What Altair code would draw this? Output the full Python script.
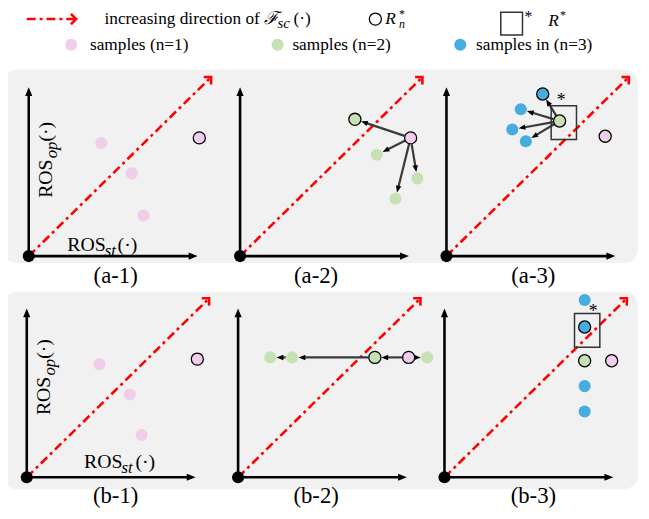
import math
import altair as alt
import pandas as pd

# ---------------- chart values ----------------
PANELS = ["a-1", "a-2", "a-3", "b-1", "b-2", "b-3"]
PANEL_LABELS = ["(a-1)", "(a-2)", "(a-3)", "(b-1)", "(b-2)", "(b-3)"]

GROUPS = ["n=1", "n=2", "n=3"]
GROUP_COLORS = ["#f0cdeb", "#c6e1b5", "#47addf"]
LEGEND_LABELS = ["samples (n=1)", "samples (n=2)", "samples in (n=3)"]

# samples: panel, group, ROS_st, ROS_op, outlined (= R*_n)
S_PANEL = (["a-1"] * 4 + ["a-2"] * 5 + ["a-3"] * 6 +
           ["b-1"] * 4 + ["b-2"] * 5 + ["b-3"] * 6)
S_GROUP = (["n=1"] * 4 +
           ["n=1", "n=2", "n=2", "n=2", "n=2"] +
           ["n=1", "n=2", "n=3", "n=3", "n=3", "n=3"] +
           ["n=1"] * 4 +
           ["n=1", "n=2", "n=2", "n=2", "n=2"] +
           ["n=1", "n=2", "n=3", "n=3", "n=3", "n=3"])
S_ST = [43, 61, 68, 101,
        101, 68, 81, 105, 92,
        94, 67, 57, 44, 39, 47,
        43, 61, 68, 101,
        101, 81, 32, 19, 112,
        99, 83, 83, 83, 83, 83]
S_OP = [67, 49, 24, 70,
        70, 81, 60, 46, 34,
        71, 80, 96, 87, 75, 68,
        67, 49, 25, 70,
        71, 71, 71, 71, 71,
        69, 69, 89, 105, 54, 39]
S_BEST = [0, 0, 0, 1,
          1, 1, 0, 0, 0,
          1, 1, 1, 0, 0, 0,
          0, 0, 0, 1,
          1, 1, 0, 0, 0,
          1, 1, 1, 0, 0, 0]

# search arrows: panel, from (st, op) -> to (st, op)
A_PANEL = ["a-2"] * 4 + ["a-3"] * 4 + ["b-2"] * 4
A_ST0 = [101, 101, 101, 101, 67, 67, 67, 67, 81, 32, 101, 101]
A_OP0 = [70, 70, 70, 70, 80, 80, 80, 80, 71, 71, 71, 71]
A_ST1 = [68, 81, 105, 92, 57, 44, 39, 47, 32, 19, 81, 112]
A_OP1 = [81, 60, 46, 34, 96, 87, 75, 68, 71, 71, 71, 71]

# R* boxes
B_PANEL = ["a-3", "b-3"]
B_ST0 = [62, 77]
B_ST1 = [77, 92]
B_OP0 = [69, 77]
B_OP1 = [89, 97]
STAR_ST = [68, 88]
STAR_OP = [94, 100]

AXIS_MAX = 100
DIAG_END = (108, 106)

# ---------------- layout (pixels) ----------------
K = 1.71
ORIGIN = {"a-1": (29, 256), "a-2": (243, 256), "a-3": (452, 256),
          "b-1": (27, 480), "b-2": (241, 480), "b-3": (450, 480)}
LABEL_POS = {"a-1": (117, 283), "a-2": (320, 283), "a-3": (540, 283),
             "b-1": (117, 506), "b-2": (320, 506), "b-3": (540, 506)}
ROW_BOX = [(3, 646, 67, 263), (3, 646, 292, 492)]
FONT = "Liberation Serif"
BG = "#f1f1f1"

XS = alt.Scale(domain=[8, 649], nice=False, zero=False)
YS = alt.Scale(domain=[8, 519], nice=False, zero=False, reverse=True)


def px(panel, st, op):
    ox, oy = ORIGIN[panel]
    return ox + K * st, oy - K * op


def enc(**kw):
    out = {}
    if "x" in kw:
        out["x"] = alt.X(kw["x"], type="quantitative", scale=XS, axis=None)
    if "y" in kw:
        out["y"] = alt.Y(kw["y"], type="quantitative", scale=YS, axis=None)
    if "x2" in kw:
        out["x2"] = alt.X2(kw["x2"])
    if "y2" in kw:
        out["y2"] = alt.Y2(kw["y2"])
    return out


def heading(x0, y0, x1, y1):
    dx, dy = x1 - x0, y1 - y0
    return math.degrees(math.atan2(dx, -dy)) % 360


HEAD = "M0,0L-0.4,1L0.4,1Z"
CHEVRON = "M-1,1L0,0L1,1"

layers = []

# row backgrounds
bg = pd.DataFrame([{"x": a, "x2": b, "y": c, "y2": d} for a, b, c, d in ROW_BOX])
layers.append(alt.Chart(bg).mark_rect(cornerRadius=14, color=BG)
              .encode(**enc(x="x", x2="x2", y="y", y2="y2")))

# red diagonal (increasing direction)
diag_rows, chev_rows = [], []
for p in PANELS:
    x0, y0 = px(p, 0, 0)
    x1, y1 = px(p, *DIAG_END)
    diag_rows.append({"x": x0, "y": y0, "x2": x1, "y2": y1})
    chev_rows.append({"x": x1, "y": y1, "ang": heading(x0, y0, x1, y1)})
# legend arrow
diag_rows.append({"x": 27, "y": 16, "x2": 75, "y2": 16})
chev_rows.append({"x": 77, "y": 16, "ang": 90})
layers.append(alt.Chart(pd.DataFrame(diag_rows))
              .mark_rule(color="#ff0000", strokeWidth=2.6, strokeDash=[9, 4, 3, 4])
              .encode(**enc(x="x", y="y", x2="x2", y2="y2")))
layers.append(alt.Chart(pd.DataFrame(chev_rows))
              .mark_point(shape=CHEVRON, filled=False, color="#ff0000",
                          strokeWidth=2.6, size=110, opacity=1)
              .encode(**enc(x="x", y="y"), angle=alt.Angle("ang:Q", scale=None)))

# axes
ax_rows, axh_rows, org_rows = [], [], []
for p in PANELS:
    x0, y0 = px(p, 0, 0)
    xe, _ = px(p, AXIS_MAX, 0)
    _, ye = px(p, 0, AXIS_MAX)
    ax_rows.append({"x": x0, "y": y0, "x2": xe - 7, "y2": y0})
    ax_rows.append({"x": x0, "y": y0, "x2": x0, "y2": ye + 7})
    axh_rows.append({"x": xe, "y": y0, "ang": 90})
    axh_rows.append({"x": x0, "y": ye, "ang": 0})
    org_rows.append({"x": x0, "y": y0})
layers.append(alt.Chart(pd.DataFrame(ax_rows)).mark_rule(color="black", strokeWidth=2.6)
              .encode(**enc(x="x", y="y", x2="x2", y2="y2")))
layers.append(alt.Chart(pd.DataFrame(axh_rows))
              .mark_point(shape=HEAD, filled=True, color="black", size=324, opacity=1)
              .encode(**enc(x="x", y="y"), angle=alt.Angle("ang:Q", scale=None)))
layers.append(alt.Chart(pd.DataFrame(org_rows))
              .mark_circle(color="black", size=150, opacity=1)
              .encode(**enc(x="x", y="y")))

# search arrows
ar_rows, arh_rows = [], []
for p, s0, o0, s1, o1 in zip(A_PANEL, A_ST0, A_OP0, A_ST1, A_OP1):
    x0, y0 = px(p, s0, o0)
    x1, y1 = px(p, s1, o1)
    L = math.hypot(x1 - x0, y1 - y0)
    ux, uy = (x1 - x0) / L, (y1 - y0) / L
    sx, sy = x0 + 6.5 * ux, y0 + 6.5 * uy
    tx, ty = x1 - 6.5 * ux, y1 - 6.5 * uy
    ar_rows.append({"x": sx, "y": sy, "x2": tx - 5 * ux, "y2": ty - 5 * uy})
    arh_rows.append({"x": tx, "y": ty, "ang": heading(x0, y0, x1, y1)})
layers.append(alt.Chart(pd.DataFrame(ar_rows)).mark_rule(color="#3a3a3a", strokeWidth=2.2)
              .encode(**enc(x="x", y="y", x2="x2", y2="y2")))
layers.append(alt.Chart(pd.DataFrame(arh_rows))
              .mark_point(shape=HEAD, filled=True, color="black", size=190, opacity=1)
              .encode(**enc(x="x", y="y"), angle=alt.Angle("ang:Q", scale=None)))

# samples
pts = []
for p, g, s, o, b in zip(S_PANEL, S_GROUP, S_ST, S_OP, S_BEST):
    x, y = px(p, s, o)
    pts.append({"x": x, "y": y, "group": g, "best": b})
# legend dots
for g, lx in zip(GROUPS, [72, 281, 466]):
    pts.append({"x": lx, "y": 42, "group": g, "best": 0})
pts = pd.DataFrame(pts)
color = alt.Color("group:N", scale=alt.Scale(domain=GROUPS, range=GROUP_COLORS), legend=None)
layers.append(alt.Chart(pts[pts.best == 0]).mark_circle(size=150, opacity=1)
              .encode(**enc(x="x", y="y"), color=color))
layers.append(alt.Chart(pts[pts.best == 1])
              .mark_point(shape="circle", filled=True, size=150, opacity=1,
                          stroke="black", strokeWidth=1.3)
              .encode(**enc(x="x", y="y"), fill=color))

# legend hollow circle
layers.append(alt.Chart(pd.DataFrame([{"x": 380, "y": 16}]))
              .mark_point(shape="circle", filled=False, size=150, color="black",
                          strokeWidth=1.3, opacity=1)
              .encode(**enc(x="x", y="y")))

# R* boxes (panels + legend)
box_rows = []
for p, a, b, c, d in zip(B_PANEL, B_ST0, B_ST1, B_OP0, B_OP1):
    x0, y0 = px(p, a, c)
    x1, y1 = px(p, b, d)
    box_rows.append({"x": x0, "x2": x1, "y": y0, "y2": y1})
box_rows.append({"x": 507, "x2": 529, "y": 9, "y2": 32})
layers.append(alt.Chart(pd.DataFrame(box_rows))
              .mark_rect(filled=False, stroke="#333333", strokeWidth=1.5, fill=None)
              .encode(**enc(x="x", x2="x2", y="y", y2="y2")))


# ---------------- texts ----------------
def text_layer(rows, **props):
    df = pd.DataFrame(rows)
    return (alt.Chart(df).mark_text(font=FONT, color="black", **props)
            .encode(**enc(x="x", y="y"), text="t:N",
                    size=alt.Size("fs:Q", scale=None),
                    angle=alt.Angle("ang:Q", scale=None)))


normal_left = [
    {"x": 297, "y": 21, "t": "(·)", "fs": 17.5, "ang": 0},
    {"x": 404, "y": 15, "t": "*", "fs": 12, "ang": 0},
    {"x": 531, "y": 19, "t": "*", "fs": 16, "ang": 0},
    {"x": 567, "y": 16, "t": "*", "fs": 12, "ang": 0},
    {"x": 68, "y": 251, "t": "ROS", "fs": 20, "ang": 0},
    {"x": 119, "y": 251, "t": "(·)", "fs": 20, "ang": 0},
    {"x": 85, "y": 471, "t": "ROS", "fs": 20, "ang": 0},
    {"x": 137, "y": 471, "t": "(·)", "fs": 20, "ang": 0},
    {"x": 53, "y": 197, "t": "ROS", "fs": 20, "ang": 270},
    {"x": 53, "y": 140, "t": "(·)", "fs": 20, "ang": 270},
    {"x": 51, "y": 417, "t": "ROS", "fs": 20, "ang": 270},
    {"x": 51, "y": 360, "t": "(·)", "fs": 20, "ang": 270},
]
for lab, lx in zip(LEGEND_LABELS, [91, 296, 482]):
    normal_left.append({"x": lx, "y": 47, "t": lab, "fs": 17.5, "ang": 0})
layers.append(text_layer(normal_left, align="left", baseline="alphabetic"))

layers.append(text_layer([{"x": 263, "y": 21, "t": "increasing direction of", "fs": 17.5, "ang": 0}],
                         align="right", baseline="alphabetic"))

italic_left = [
    {"x": 267, "y": 21, "t": "ℱ", "fs": 18, "ang": 0},
    {"x": 281, "y": 25, "t": "sc", "fs": 15, "ang": 0},
    {"x": 390, "y": 21, "t": "R", "fs": 17.5, "ang": 0},
    {"x": 404, "y": 25, "t": "n", "fs": 12, "ang": 0},
    {"x": 555, "y": 23, "t": "R", "fs": 17.5, "ang": 0},
    {"x": 106, "y": 256, "t": "st", "fs": 17, "ang": 0},
    {"x": 123, "y": 476, "t": "st", "fs": 17, "ang": 0},
    {"x": 58, "y": 157, "t": "op", "fs": 17, "ang": 270},
    {"x": 56, "y": 377, "t": "op", "fs": 17, "ang": 270},
]
layers.append(text_layer(italic_left, align="left", baseline="alphabetic", fontStyle="italic"))

# panel labels
lab_rows = [{"x": LABEL_POS[p][0], "y": LABEL_POS[p][1], "t": t, "fs": 23, "ang": 0}
            for p, t in zip(PANELS, PANEL_LABELS)]
# R* stars on panels
for p, s, o in zip(B_PANEL, STAR_ST, STAR_OP):
    x, y = px(p, s, o)
    lab_rows.append({"x": x, "y": y + 9, "t": "*", "fs": 18, "ang": 0})
layers.append(text_layer(lab_rows, align="center", baseline="alphabetic"))

chart = (alt.layer(*layers)
         .properties(width=641, height=511, padding=0, autosize=alt.AutoSizeParams(type="none"),
                     background="white")
         .configure_view(stroke=None))

chart.save("out.html", embed_options={"renderer": "svg", "actions": False})
